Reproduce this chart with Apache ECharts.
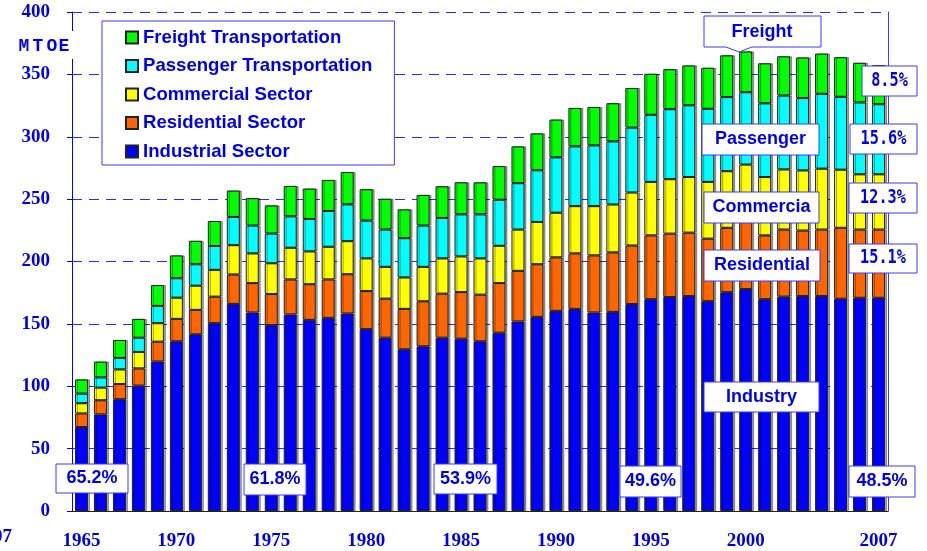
<!DOCTYPE html>
<html>
<head>
<meta charset="utf-8">
<title>Energy consumption by sector</title>
<script src="https://cdn.jsdelivr.net/npm/echarts@6/dist/echarts.min.js"></script>
<style>
  html, body { margin: 0; padding: 0; background: #fff; }
  #chart { width: 927px; height: 551px; }
</style>
</head>
<body>
<div id="chart"></div>
<script>
const years = ['1965', '1966', '1967', '1968', '1969', '1970', '1971', '1972', '1973', '1974',
  '1975', '1976', '1977', '1978', '1979', '1980', '1981', '1982', '1983', '1984',
  '1985', '1986', '1987', '1988', '1989', '1990', '1991', '1992', '1993', '1994',
  '1995', '1996', '1997', '1998', '1999', '2000', '2001', '2002', '2003', '2004',
  '2005', '2006', '2007']

const industrial = [67.3, 77.4, 89.6, 100.5, 119.8, 136.0, 141.6, 150.6, 166.0, 159.1,
  149.0, 157.5, 153.2, 154.8, 158.3, 145.8, 138.9, 129.6, 132.0, 138.9,
  138.1, 136.0, 142.9, 151.9, 155.6, 160.4, 162.0, 159.1, 159.6, 165.9,
  169.8, 171.5, 172.3, 168.2, 175.4, 177.9, 169.8, 171.8, 172.3, 172.3,
  170.1, 170.9, 170.9]
const residential = [10.9, 11.4, 12.2, 13.8, 15.9, 18.0, 19.6, 21.2, 23.6, 23.6,
  24.9, 28.1, 28.6, 30.8, 31.5, 30.5, 31.3, 32.4, 36.1, 35.3,
  37.4, 37.4, 39.8, 40.6, 42.2, 42.9, 44.5, 45.8, 47.7, 46.9,
  51.1, 50.8, 50.8, 50.1, 51.6, 53.8, 51.1, 53.8, 52.5, 53.3,
  56.9, 54.7, 54.7]
const commercial = [8.2, 10.1, 11.7, 13.2, 14.9, 17.0, 19.4, 21.5, 23.5, 23.8,
  24.7, 25.4, 26.3, 26.2, 26.5, 26.2, 25.5, 25.2, 27.6, 28.3,
  28.6, 29.1, 29.9, 33.1, 33.9, 35.8, 37.9, 39.5, 38.4, 42.5,
  42.9, 43.7, 44.6, 45.5, 45.4, 46.0, 46.8, 48.2, 48.2, 48.8,
  46.6, 44.3, 44.3]
const passenger = [7.7, 8.2, 9.2, 11.4, 13.8, 15.6, 17.2, 19.1, 22.6, 22.3,
  23.8, 25.2, 26.0, 28.7, 29.5, 30.3, 29.9, 31.5, 33.1, 32.4,
  33.7, 35.3, 36.9, 37.2, 41.4, 44.4, 47.9, 48.7, 50.6, 52.0,
  53.8, 56.1, 57.5, 58.6, 59.4, 58.0, 59.1, 59.2, 58.0, 60.0,
  58.4, 57.6, 56.2]
const freight = [11.4, 12.7, 14.4, 15.1, 16.7, 18.3, 18.8, 20.1, 21.2, 22.0,
  22.6, 24.4, 24.4, 24.9, 25.9, 25.2, 24.7, 23.1, 24.6, 25.4,
  25.7, 25.7, 27.0, 29.5, 29.6, 30.3, 30.8, 30.8, 30.6, 31.8,
  32.9, 32.1, 32.0, 32.9, 33.5, 32.7, 32.1, 31.5, 32.6, 32.3,
  31.8, 31.8, 31.3]

const seriesNames = ['Industrial Sector', 'Residential Sector', 'Commercial Sector', 'Passenger Transportation', 'Freight Transportation']
const seriesColors = ['#0000ff', '#ff6600', '#ffff00', '#00ffff', '#00ff00']
const sectorLabels = ['Freight', 'Passenger', 'Commercia', 'Residential', 'Industry']
const sharesRight = ['8.5%', '15.6%', '12.3%', '15.1%', '48.5%']
const sharesIndustry = ['65.2%', '61.8%', '53.9%', '49.6%']

const BLUE = '#0000f0'
const BOX = '#3a3aff'

function box (x, y, w, h, text, font, sx) {
  return {
    type: 'group',
    children: [
      { type: 'rect', z: 100, shape: { x: x, y: y, width: w, height: h }, style: { fill: '#fff', stroke: BOX, lineWidth: 1 } },
      {
        type: 'text',
        z: 101,
        x: x + w / 2,
        y: y + h / 2,
        scaleX: sx || 1,
        style: { text: text, fill: BLUE, font: font, align: 'center', verticalAlign: 'middle' }
      }
    ]
  }
}

const sansFont = 'bold 18px "Liberation Sans", Arial, sans-serif'
const monoFont = 'bold 19px "DejaVu Sans Mono", monospace'
const serifFont = 'bold 19px "Liberation Serif", serif'

let graphics = [
  {
    type: 'polygon',
    z: 100,
    shape: { points: [[704, 16], [821, 16], [821, 47], [752, 47], [739, 52], [726, 47], [704, 47]] },
    style: { fill: '#fff', stroke: BOX, lineWidth: 1 }
  },
  { type: 'text', z: 101, x: 762, y: 32, style: { text: sectorLabels[0], fill: BLUE, font: sansFont, align: 'center', verticalAlign: 'middle' } },
  box(702, 124, 117, 31, sectorLabels[1], sansFont),
  box(704, 192, 115, 31, sectorLabels[2], sansFont),
  box(704, 250, 116, 31, sectorLabels[3], sansFont),
  box(704, 382, 115, 30, sectorLabels[4], sansFont),
  box(862, 66, 55, 30, sharesRight[0], monoFont, 0.8),
  box(850, 124, 67, 30, sharesRight[1], monoFont, 0.8),
  box(849, 183, 68, 30, sharesRight[2], monoFont, 0.8),
  box(849, 244, 68, 29, sharesRight[3], monoFont, 0.8),
  box(849, 466, 66, 31, sharesRight[4], sansFont),
  box(56, 464, 72, 29, sharesIndustry[0], sansFont),
  box(244, 464, 62, 31, sharesIndustry[1], sansFont),
  box(434, 464, 63, 30, sharesIndustry[2], sansFont),
  box(620, 466, 61, 31, sharesIndustry[3], sansFont),
  { type: 'rect', z: 90, shape: { x: 12, y: 31, width: 63, height: 28 }, style: { fill: '#fff' } },
  { type: 'text', z: 91, x: 12, y: 537, style: { text: '2007', fill: BLUE, font: serifFont, align: 'right', verticalAlign: 'middle' } }
]
const mtoe = ['M', 'T', 'O', 'E']
const mtoeX = [24, 38, 52, 64]
mtoe.forEach((ch, i) => {
  graphics.push({ type: 'text', z: 91, x: mtoeX[i], y: 46, style: { text: ch, fill: BLUE, font: 'bold 18px "Liberation Mono", monospace', align: 'center', verticalAlign: 'middle' } })
})

const values = [industrial, residential, commercial, passenger, freight]

let myChart = echarts.init(document.getElementById('chart'))
let option = {
  animation: false,
  backgroundColor: '#fff',
  grid: {
    left: 72,
    right: 39,
    top: 12,
    bottom: 36
  },
  legend: {
    data: seriesNames.slice().reverse(),
    orient: 'vertical',
    left: 102,
    top: 21,
    padding: [7, 22, 4, 23],
    itemWidth: 12,
    itemHeight: 12,
    itemGap: 9.5,
    icon: 'rect',
    backgroundColor: '#fff',
    borderColor: BOX,
    borderWidth: 1,
    textStyle: {
      color: BLUE,
      fontWeight: 'bold',
      fontSize: 18.6,
      lineHeight: 19,
      fontFamily: '"Liberation Sans", Arial, sans-serif'
    },
    z: 50
  },
  xAxis: {
    type: 'category',
    data: years,
    boundaryGap: true,
    axisLine: { lineStyle: { color: '#222', width: 1 } },
    axisTick: {
      interval: (i) => i % 5 === 0,
      length: 5,
      lineStyle: { color: '#222' }
    },
    axisLabel: {
      interval: (i) => (i % 5 === 0 && i <= 35) || i === years.length - 1,
      color: BLUE,
      fontFamily: '"Liberation Serif", serif',
      fontWeight: 'bold',
      fontSize: 19,
      margin: 21
    }
  },
  yAxis: [{
    type: 'value',
    min: 0,
    max: 400,
    interval: 50,
    axisLine: { show: true, lineStyle: { color: '#0000ff', width: 1 } },
    axisTick: { show: true, length: 5, lineStyle: { color: '#0000ff' } },
    axisLabel: {
      color: BLUE,
      fontFamily: '"Liberation Serif", serif',
      fontWeight: 'bold',
      fontSize: 19,
      margin: 22
    },
    splitLine: {
      show: true,
      lineStyle: { color: '#2a2aff', width: 1, type: [10, 7] }
    }
  }, {
    type: 'value',
    position: 'right',
    min: 0,
    max: 400,
    interval: 50,
    axisLine: { show: true, lineStyle: { color: '#3a3aff', width: 1 } },
    axisTick: { show: false },
    axisLabel: { show: false },
    splitLine: { show: false }
  }],
  series: seriesNames.map((name, i) => ({
    name: name,
    type: 'bar',
    stack: 'total',
    barWidth: 13,
    data: values[i],
    itemStyle: {
      color: seriesColors[i],
      borderColor: '#222',
      borderWidth: 1,
      shadowColor: 'rgba(0, 0, 0, 0.35)',
      shadowOffsetX: 2,
      shadowBlur: 0
    }
  })),
  graphic: graphics
}
myChart.setOption(option, true)
</script>
</body>
</html>
